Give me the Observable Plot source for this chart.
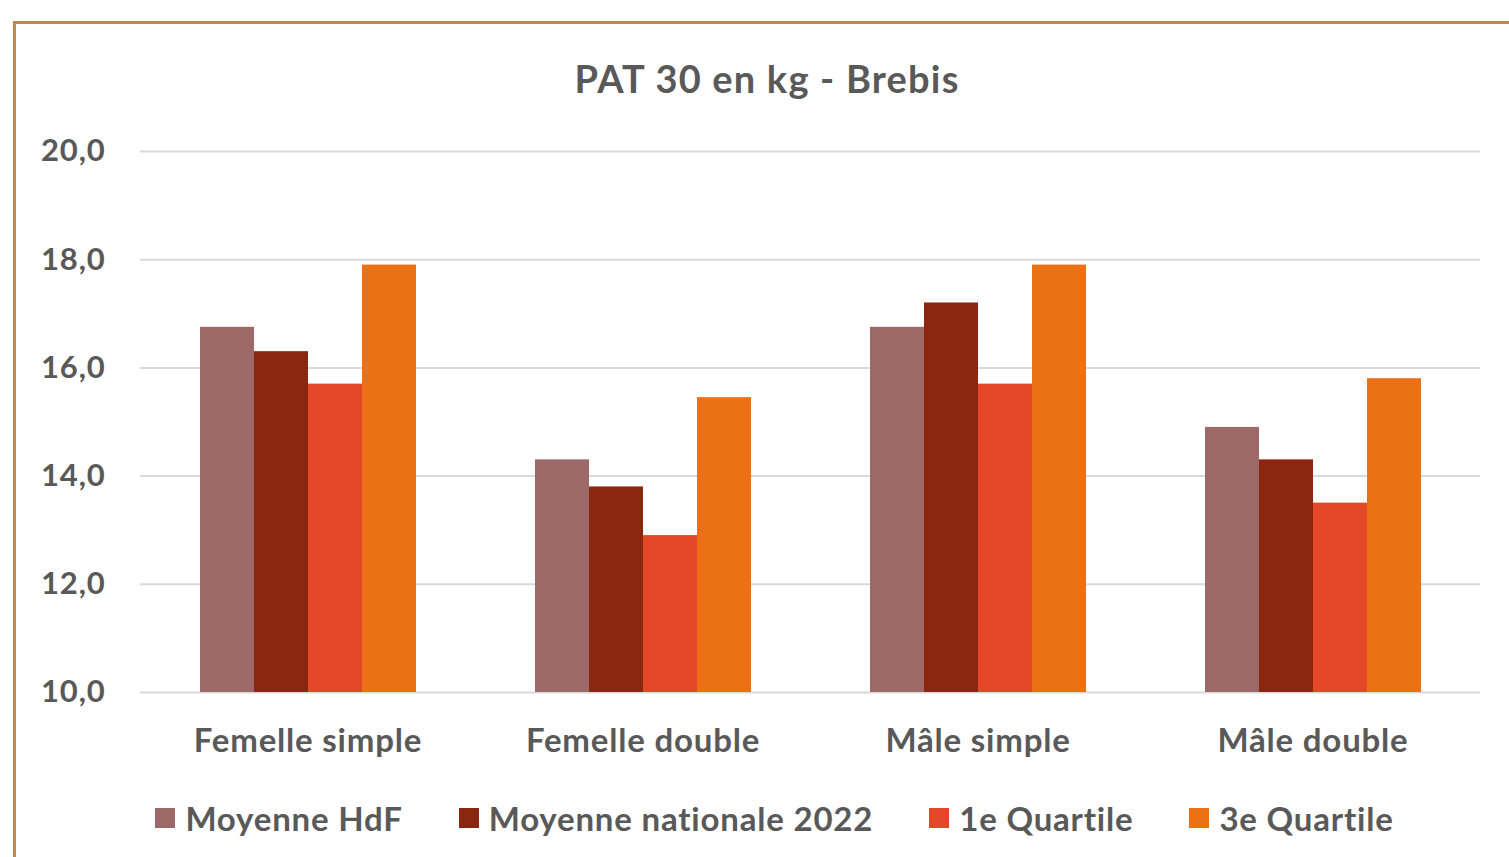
<!DOCTYPE html>
<html><head><meta charset="utf-8">
<script src="https://cdn.jsdelivr.net/npm/d3@7"></script>
<script src="https://cdn.jsdelivr.net/npm/@observablehq/plot@0.6"></script>
<style>
html,body{margin:0;padding:0;background:#fff;overflow:hidden;}
body{width:1509px;height:857px;position:relative;font-family:Lato,"Open Sans",sans-serif;color:#595959;}
#frame{position:absolute;left:13px;top:21px;width:1600px;height:900px;border-left:3px solid #C0874F;border-top:3px solid #C0874F;box-sizing:border-box;}
#title{position:absolute;left:0;top:52px;width:1534px;text-align:center;font-size:38px;font-weight:700;line-height:52px;letter-spacing:1.2px;}
#chart{position:absolute;left:0;top:120px;}
#chart svg text{letter-spacing:0.8px;}
#legend{position:absolute;left:0;top:798px;width:1549px;display:flex;justify-content:center;gap:56px;font-size:33px;font-weight:700;line-height:40px;letter-spacing:0.8px;}
#legend .item{display:flex;align-items:center;}
#legend .sw{width:20px;height:20px;margin-right:10px;}
</style></head>
<body>
<div id="frame"></div>
<div id="title">PAT 30 en kg - Brebis</div>
<div id="chart"></div>
<div id="legend"></div>
<script>
const categories = ["Femelle simple", "Femelle double", "Mâle simple", "Mâle double"];
const series = ["Moyenne HdF", "Moyenne nationale 2022", "1e Quartile", "3e Quartile"];
const colors = ["#9C6868", "#8B2710", "#E54826", "#EB7016"];
const moyenneHdF = [16.75, 14.3, 16.75, 14.9];
const moyenneNationale = [16.3, 13.8, 17.2, 14.3];
const quartile1 = [15.7, 12.9, 15.7, 13.5];
const quartile3 = [17.9, 15.45, 17.9, 15.8];
const yTicks = [10, 12, 14, 16, 18, 20];

const seriesValues = [moyenneHdF, moyenneNationale, quartile1, quartile3];
const data = [];
categories.forEach((c, i) => series.forEach((s, j) => data.push({category: c, series: s, value: seriesValues[j][i]})));

const plot = Plot.plot({
  width: 1509,
  height: 652,
  marginLeft: 140,
  marginRight: 29,
  marginTop: 31,
  marginBottom: 80,
  style: {fontFamily: "Lato, 'Open Sans', sans-serif", color: "#595959", background: "transparent"},
  fx: {domain: categories, padding: 0},
  x: {domain: series, paddingInner: 0, paddingOuter: 1.1, axis: null},
  y: {domain: [10, 20], axis: null},
  color: {domain: series, range: colors},
  marks: [
    Plot.gridY(yTicks, {stroke: "#D9D9D9", strokeOpacity: 1, strokeWidth: 2}),
    Plot.barY(data, {fx: "category", x: "series", y1: 10, y2: "value", fill: "series"}),
    Plot.axisY(yTicks, {anchor: "left", tickSize: 0, tickPadding: 35, fontSize: 31, fontWeight: 700, fill: "#595959",
      tickFormat: d => d.toFixed(1).replace(".", ","), label: null}),
    Plot.axisFx({anchor: "bottom", tickSize: 0, tickPadding: 36, fontSize: 33, fontWeight: 700, fill: "#595959", label: null})
  ]
});
document.getElementById("chart").appendChild(plot);

const leg = document.getElementById("legend");
series.forEach((s, j) => {
  const it = document.createElement("div"); it.className = "item";
  const sw = document.createElement("div"); sw.className = "sw"; sw.style.background = colors[j];
  const t = document.createElement("span"); t.textContent = s;
  it.appendChild(sw); it.appendChild(t); leg.appendChild(it);
});
</script>
</body></html>
